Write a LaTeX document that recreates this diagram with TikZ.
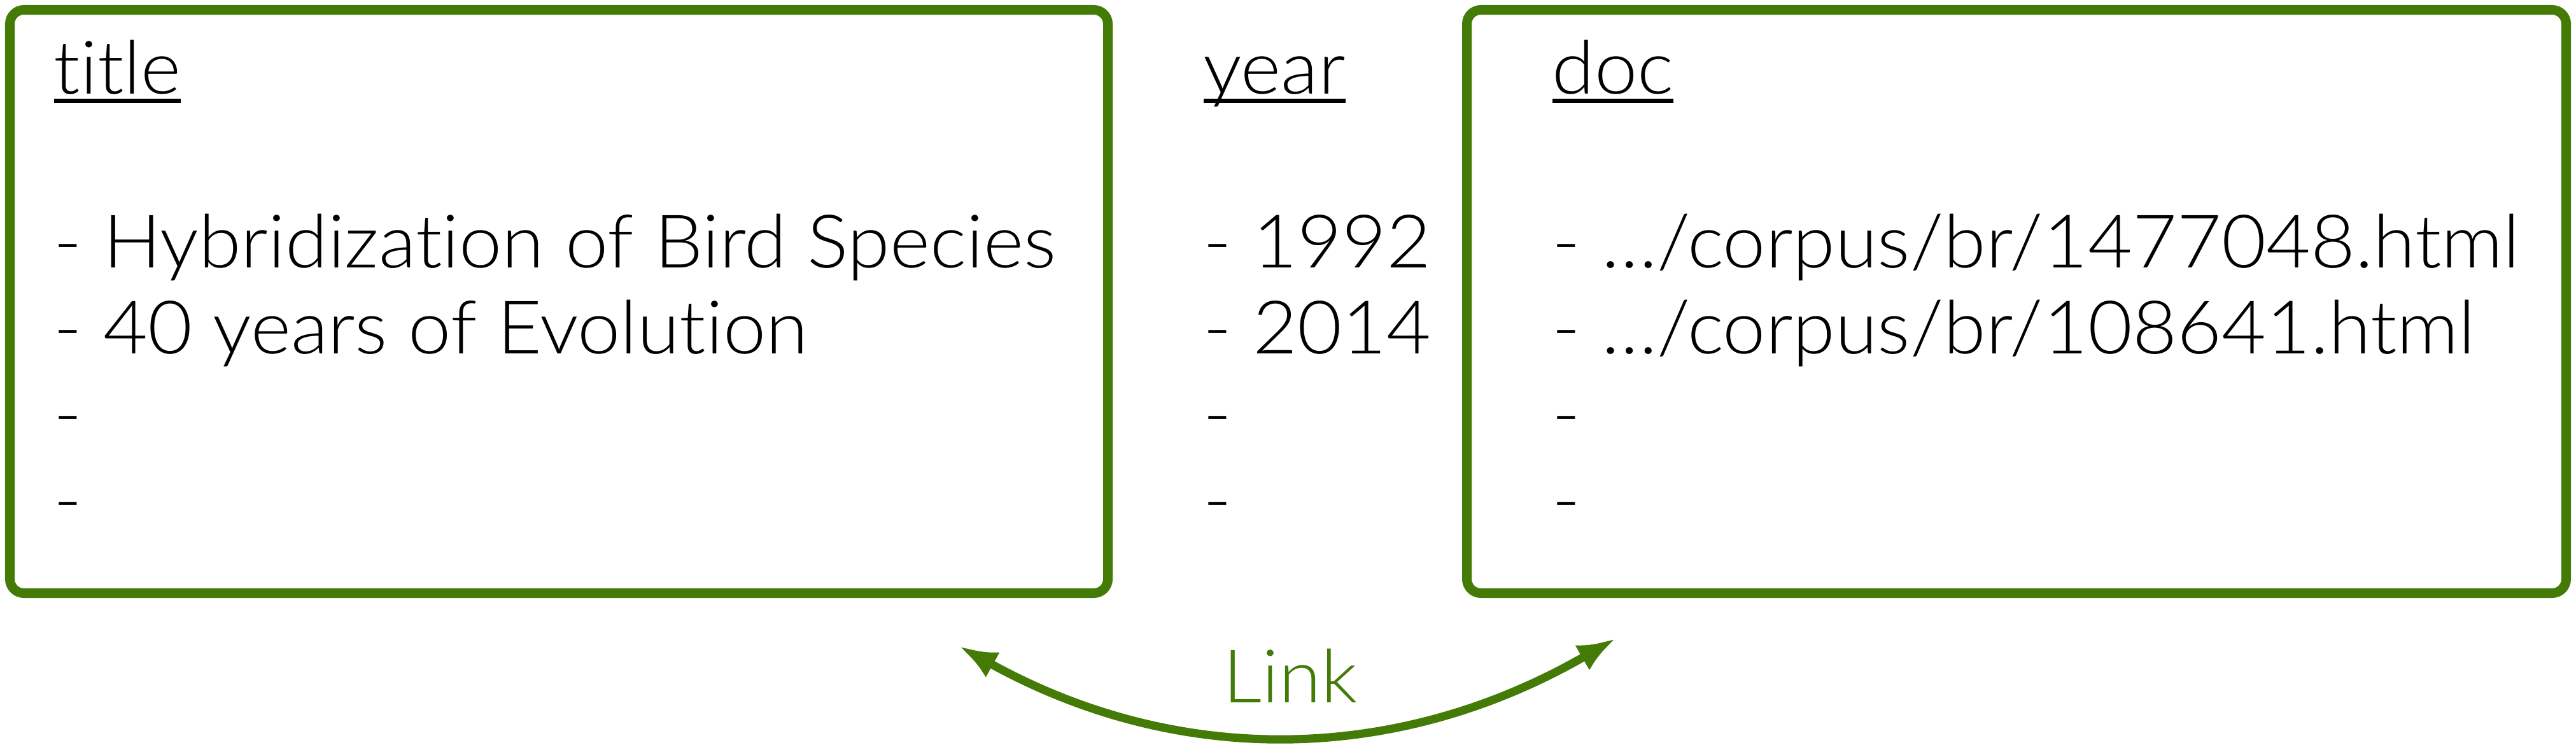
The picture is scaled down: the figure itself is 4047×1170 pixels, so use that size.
\documentclass[tikz,border=0pt]{standalone}
\usepackage{fontspec}
\setmainfont{Lato}[UprightFont=* Light, FakeStretch=1.04, Ligatures=NoCommon]
\usetikzlibrary{arrows.meta}
\definecolor{lgreen}{HTML}{447A06}
\newcommand{\ulword}[1]{{\setbox0\hbox{#1}\rlap{\rule[-0.135cm]{\wd0}{0.065cm}}\box0}}
\tikzset{
  panel/.style={draw=lgreen, line width=0.15cm, rounded corners=0.22cm},
  txt/.style={anchor=base west, inner sep=0pt, font=\fontsize{33pt}{38pt}\selectfont},
  linkarrow/.style={draw=lgreen, line width=0.13cm, {Latex[length=0.6cm,width=0.45cm]}-{Latex[length=0.6cm,width=0.45cm]}}
}
\begin{document}
\begin{tikzpicture}[x=0.01cm, y=-0.01cm]
\useasboundingbox (0,0) rectangle (4047,1170);
% boxes
\draw[panel] (15.5,15.5) rectangle (1740.5,931.5);
\draw[panel] (2304.5,15.5) rectangle (4031.5,931.5);
% left column
\node[txt] (t0) at (84,148) {\ulword{title}};
\node[txt] (t1) at (84,420) {- Hybridization of Bird Species};
\node[txt] (t2) at (84,555) {- 40 years of Evolution};
\node[txt] (t3) at (84,690) {-};
\node[txt] (t4) at (84,825) {-};
% year column
\node[txt] (y0) at (1890,148) {\ulword{year}};
\node[txt] (y1) at (1890,420) {- 1992};
\node[txt] (y2) at (1890,555) {- 2014};
\node[txt] (y3) at (1890,690) {-};
\node[txt] (y4) at (1890,825) {-};
% doc column
\node[txt] (d0) at (2438,148) {\ulword{doc}};
\node[txt] (d1) at (2438,420) {- …/corpus/br/1477048.html};
\node[txt] (d2) at (2438,555) {- …/corpus/br/108641.html};
\node[txt] (d3) at (2438,690) {-};
\node[txt] (d4) at (2438,825) {-};
% link
\coordinate (la) at (1507,1015);
\coordinate (lb) at (2538,1003);
\draw[linkarrow] (la) .. controls (1850,1205) and (2194,1201) .. (lb);
\node[anchor=base, inner sep=0pt, text=lgreen, font=\fontsize{33pt}{38pt}\selectfont] (link) at (2027,1103) {Link};
\end{tikzpicture}
\end{document}
